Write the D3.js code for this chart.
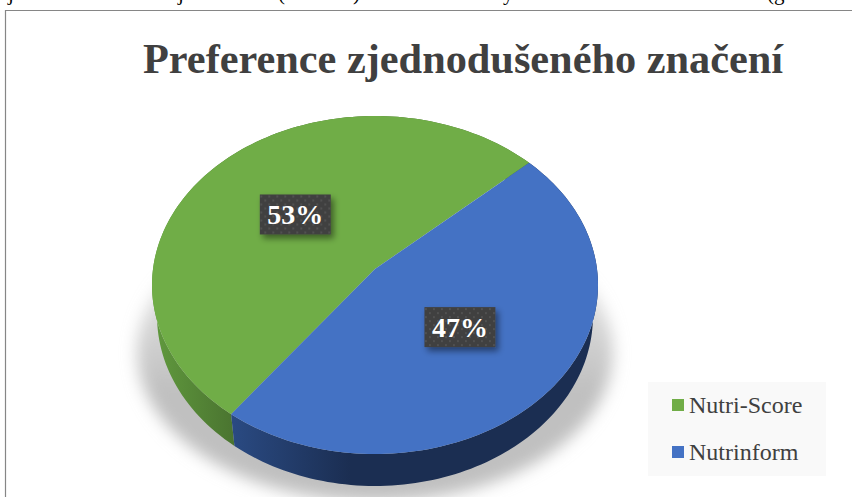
<!DOCTYPE html>
<html><head><meta charset="utf-8">
<script src="https://cdn.jsdelivr.net/npm/d3@7"></script>
<style>html,body{margin:0;padding:0;background:#fff}svg{display:block}text{font-family:"Liberation Serif",serif}</style>
</head><body><svg id="c" width="852" height="497"></svg>
<script>
const categories = ["Nutri-Score", "Nutrinform"];
const values = [53, 47];
const labels = ["53%", "47%"];
const topColors = ["#70ad47", "#4472c4"];
const title = "Preference zjednodušeného značení";
const strayText = [["j",8],["j",178],["(",278],[")",353],["y",503],["(g",767]];

const svg = d3.select("#c");
const defs = svg.append("defs");
const rad = d => d*Math.PI/180;

function projector(cx,y0,A,B,k){
  return (a,t=1)=>{
    const u=Math.sin(a)*t, v=Math.cos(a)*t, w=1+k*v;
    return [cx+A*u/w, y0-B*v/w];
  };
}
const topP = projector(375,269,222,167.5,0.0947);
const botP = projector(375,300,217,168.5,0.094);

const pie = d3.pie().sort(null).value(d=>d).startAngle(rad(216.8)).endAngle(rad(216.8+360));
const arcs = pie(values);
const line = d3.line();
const arcPts=(p,s,e)=>d3.range(0,121).map(i=>p(s+(e-s)*i/120));

const g1=defs.append("linearGradient").attr("id","rimG").attr("gradientUnits","userSpaceOnUse")
  .attr("x1",152).attr("x2",234).attr("y1",0).attr("y2",0);
g1.append("stop").attr("offset",0).attr("stop-color","#619a3e");
g1.append("stop").attr("offset",1).attr("stop-color","#4a7430");
const g2=defs.append("linearGradient").attr("id","rimB").attr("gradientUnits","userSpaceOnUse")
  .attr("x1",232).attr("x2",350).attr("y1",0).attr("y2",0);
g2.append("stop").attr("offset",0).attr("stop-color","#2a4a82");
g2.append("stop").attr("offset",1).attr("stop-color","#1b2e52");
const rimFill=["url(#rimG)","url(#rimB)"];

const sg=defs.append("linearGradient").attr("id","shFade").attr("gradientUnits","userSpaceOnUse")
  .attr("x1",0).attr("x2",0).attr("y1",200).attr("y2",390);
sg.append("stop").attr("offset",0).attr("stop-color","#c0c0c0").attr("stop-opacity",0);
sg.append("stop").attr("offset",1).attr("stop-color","#c0c0c0").attr("stop-opacity",1);
defs.append("filter").attr("id","blur").attr("x","-20%").attr("y","-20%").attr("width","140%").attr("height","140%")
  .append("feGaussianBlur").attr("stdDeviation",8);
const ds=defs.append("filter").attr("id","drop").attr("x","-30%").attr("y","-30%").attr("width","160%").attr("height","160%");
ds.append("feDropShadow").attr("dx",3).attr("dy",4).attr("stdDeviation",3).attr("flood-color","#000").attr("flood-opacity",0.45);
const pat=defs.append("pattern").attr("id","dots").attr("patternUnits","userSpaceOnUse").attr("width",8).attr("height",8);
pat.append("rect").attr("width",8).attr("height",8).attr("fill","#404040");
[[2,2],[6,6]].forEach(d=>pat.append("circle").attr("cx",d[0]).attr("cy",d[1]).attr("r",1).attr("fill","#565656"));

svg.append("g").selectAll("text").data(strayText).join("text")
  .attr("x",d=>d[1]).attr("y",0).attr("font-size",21).attr("fill","#000").text(d=>d[0]);

svg.append("path").attr("d","M5.5 497V10.5H852").attr("fill","none").attr("stroke","#868686").attr("stroke-width",1.2);

svg.append("text").attr("x",463).attr("y",73).attr("text-anchor","middle")
  .attr("font-size",42).attr("font-weight","bold").attr("fill","#404040")
  .attr("textLength",640).attr("lengthAdjust","spacingAndGlyphs").text(title);

svg.append("ellipse").attr("cx",375).attr("cy",352).attr("rx",238).attr("ry",150)
  .attr("fill","url(#shFade)").attr("filter","url(#blur)");

svg.append("g").selectAll("path").data(arcs).join("path")
  .attr("d",d=>line(arcPts(topP,d.startAngle,d.endAngle).concat(arcPts(botP,d.startAngle,d.endAngle).reverse()))+"Z")
  .attr("fill",(d,i)=>rimFill[i]);

svg.append("g").selectAll("path").data(arcs).join("path")
  .attr("d",d=>line([topP(0,0)].concat(arcPts(topP,d.startAngle,d.endAngle)))+"Z")
  .attr("fill",(d,i)=>topColors[i]);

const boxW=71,boxH=40;
const lab=svg.append("g").selectAll("g").data(arcs).join("g")
  .attr("transform",d=>{const p=topP((d.startAngle+d.endAngle)/2,0.5);return `translate(${p[0]},${p[1]})`;});
lab.append("rect").attr("x",-boxW/2).attr("y",-boxH/2).attr("width",boxW).attr("height",boxH)
  .attr("fill","url(#dots)").attr("filter","url(#drop)");
lab.append("text").attr("text-anchor","middle").attr("y",10).attr("font-size",28).attr("font-weight","bold")
  .attr("fill","#fff").text((d,i)=>labels[i]);

svg.append("rect").attr("x",648).attr("y",382).attr("width",178).attr("height",94).attr("fill","#f9f9f9");
const ly=d3.scalePoint().domain(categories).range([413,460]);
const lg=svg.append("g").selectAll("g").data(categories).join("g");
lg.append("rect").attr("x",672).attr("y",d=>ly(d)-14).attr("width",12).attr("height",12).attr("fill",(d,i)=>topColors[i]);
lg.append("text").attr("x",689).attr("y",d=>ly(d)).attr("font-size",24).attr("fill","#404040").text(d=>d);
</script></body></html>
